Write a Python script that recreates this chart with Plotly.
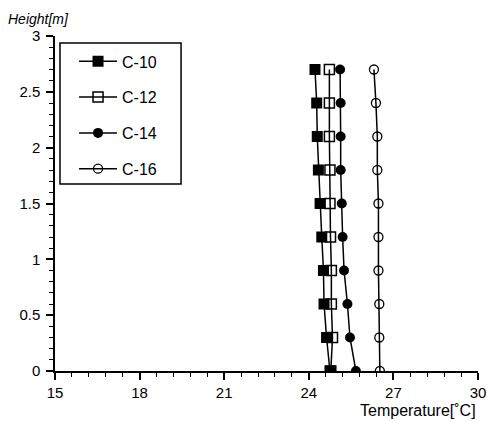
import plotly.graph_objects as go

heights = [0, 0.3, 0.6, 0.9, 1.2, 1.5, 1.8, 2.1, 2.4, 2.7]
c10 = [24.75, 24.63, 24.54, 24.52, 24.46, 24.40, 24.34, 24.30, 24.28, 24.22]
c12 = [24.78, 24.84, 24.80, 24.80, 24.77, 24.75, 24.75, 24.73, 24.73, 24.73]
c14 = [25.67, 25.46, 25.37, 25.25, 25.20, 25.17, 25.13, 25.13, 25.13, 25.11]
c16 = [26.52, 26.50, 26.50, 26.47, 26.47, 26.47, 26.43, 26.43, 26.38, 26.31]
series_names = ["C-10", "C-12", "C-14", "C-16"]
x_ticks = [15, 18, 21, 24, 27, 30]
y_ticks = [0, 0.5, 1, 1.5, 2, 2.5, 3]
y_tick_labels = ["0", "0.5", "1", "1.5", "2", "2.5", "3"]

FONT = "Liberation Sans, Arial, sans-serif"

styles = {
    "C-10": dict(symbol="square", size=11, color="black", line=dict(width=0)),
    "C-12": dict(symbol="square-open", size=10, color="black", line=dict(width=1.5, color="black")),
    "C-14": dict(symbol="circle", size=10, color="black", line=dict(width=0)),
    "C-16": dict(symbol="circle-open", size=9, color="black", line=dict(width=1.3, color="black")),
}
data = {"C-10": c10, "C-12": c12, "C-14": c14, "C-16": c16}

fig = go.Figure()
for rank, name in reversed(list(enumerate(series_names))):
    fig.add_trace(go.Scatter(
        x=data[name], y=heights, mode="lines+markers", name=name,
        line=dict(color="black", width=1.5),
        marker=styles[name],
        legendgroup=name, legendrank=rank + 1,
    ))

fig.update_layout(
    width=489, height=421, autosize=False,
    margin=dict(l=55, r=11, t=36, b=50, autoexpand=False),
    paper_bgcolor="white", plot_bgcolor="white",
    font=dict(family=FONT, size=14, color="black"),
    showlegend=True,
    legend=dict(
        x=0.045, y=0.975, xanchor="left", yanchor="top",
        borderwidth=0, bgcolor="rgba(0,0,0,0)",
        font=dict(family=FONT, size=16, color="black"),
        tracegroupgap=12, itemwidth=38,
    ),
    shapes=[
        dict(type="rect", xref="paper", yref="paper",
             x0=0.0118, x1=0.298, y0=0.558, y1=0.979,
             line=dict(color="black", width=1.5), fillcolor="rgba(0,0,0,0)", layer="above"),
    ],
    xaxis=dict(
        range=[15, 30], tickvals=x_ticks, ticktext=[str(v) for v in x_ticks],
        showline=True, linecolor="black", linewidth=1.5, mirror=False,
        showgrid=False, zeroline=False, automargin=False,
        ticks="outside", ticklen=7, tickwidth=1.5, tickcolor="black",
        minor=dict(dtick=0.6, tick0=15, ticks="outside", ticklen=4, tickwidth=1.2, tickcolor="black", showgrid=False),
        tickfont=dict(family=FONT, size=15),
    ),
    yaxis=dict(
        range=[0, 3], tickvals=y_ticks, ticktext=y_tick_labels,
        showline=True, linecolor="black", linewidth=1.5, mirror=False,
        showgrid=False, zeroline=False, automargin=False,
        ticks="outside", ticklen=7, tickwidth=1.5, tickcolor="black",
        ticklabelstandoff=3,
        minor=dict(dtick=0.1, tick0=0, ticks="outside", ticklen=4, tickwidth=1.2, tickcolor="black", showgrid=False),
        tickfont=dict(family=FONT, size=15),
    ),
    annotations=[
        dict(text="<i>Height[m]</i>", xref="paper", yref="paper", x=-0.115, y=1.0,
             xanchor="left", yanchor="bottom", showarrow=False, yshift=7,
             font=dict(family=FONT, size=14)),
        dict(text="Temperature[˚C]", xref="paper", yref="paper", x=1.0, y=0,
             xanchor="right", yanchor="top", showarrow=False, yshift=-29,
             font=dict(family=FONT, size=16)),
    ],
)

fig.write_html(
    "out.html",
    config={"displayModeBar": False, "responsive": False},
    post_script="document.body.style.margin='0';document.body.style.overflow='hidden';",
)
